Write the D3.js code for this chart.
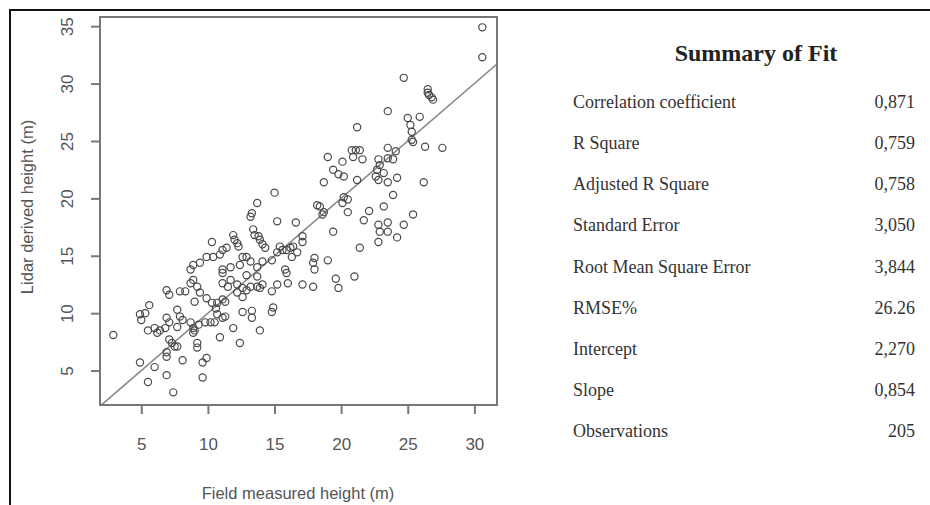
<!DOCTYPE html>
<html>
<head>
<meta charset="utf-8">
<title>Lidar vs field height</title>
<script src="https://cdn.jsdelivr.net/npm/d3@7"></script>
<style>
  body { margin: 0; background: #fff; }
  svg { display: block; }
</style>
</head>
<body>
<svg width="930" height="505" id="mainsvg"></svg>
<script>
// field measured height (x) and lidar derived height (y)
const fieldHeight = [
  2.9, 4.9, 5.5, 6.0, 6.9, 7.4, 6.9, 6.9, 8.1, 5.0, 4.9, 5.3, 5.6, 5.5, 6.0, 6.4, 6.8, 6.9, 7.1, 7.7,
  7.9, 8.1, 7.1, 7.3, 7.5, 7.7, 9.2, 9.2, 8.7, 8.9, 9.0, 9.3, 8.9, 6.9, 7.1, 7.9, 8.7, 8.9, 9.2, 9.0,
  8.7, 8.9, 6.2, 7.7,
  9.6, 9.6, 9.9, 9.8, 10.2, 10.5, 10.7, 11.1, 11.3, 10.9, 11.9, 12.4, 13.3, 13.9, 9.9, 10.3, 10.7, 11.1, 11.3, 11.1,
  11.5, 11.7, 12.2, 12.6, 12.9, 13.2, 13.7, 13.9, 14.1, 14.8, 14.9, 14.8, 15.2, 9.4, 9.9, 10.4, 10.9, 11.1, 11.1, 11.7,
  12.4, 12.6, 13.2, 13.7, 14.1, 14.8, 15.2, 9.4, 12.2, 12.6, 13.7, 12.9,
  10.3, 11.9, 12.0, 12.2, 12.3, 13.4, 13.5, 13.8, 13.9, 14.1, 14.3, 13.7, 13.3, 13.2, 15.0, 15.2, 12.9, 11.1, 11.4,
  16.6, 18.2, 17.1, 17.1, 15.6, 16.2, 16.7, 15.8, 15.9, 16.0, 17.1, 17.9, 18.0, 17.9, 18.0, 19.0, 19.8, 21.0, 21.4, 19.4,
  21.2, 20.8, 21.1, 21.4, 20.9, 21.6, 19.0, 20.1, 19.4, 19.8, 20.2, 21.2, 18.7, 20.2, 20.5, 20.1, 18.4, 18.7, 18.6, 20.5,
  21.7, 22.8, 22.9, 22.7, 23.2, 22.6, 22.8, 23.5, 23.5, 23.5, 23.2, 22.8, 23.5, 22.9, 23.5, 24.2, 22.8, 24.7, 23.5,
  15.4, 15.9, 16.4,
  30.6, 30.6, 24.7, 26.5, 26.6, 26.8, 26.9, 26.5, 25.9, 25.0, 25.2, 25.3, 25.3, 25.4, 26.3, 27.6, 24.1, 23.9, 24.2, 23.9,
  26.2, 25.4,
  12.6, 13.3, 8.3, 16.3, 19.6, 10.6, 22.1
];
const lidarHeight = [
  8.1, 5.7, 4.0, 5.3, 4.6, 3.1, 6.2, 6.6, 5.9, 9.4, 9.9, 10.0, 10.7, 8.5, 8.7, 8.5, 8.7, 9.6, 9.2, 10.3,
  9.7, 9.4, 7.7, 7.4, 7.1, 7.1, 7.4, 7.0, 9.2, 8.7, 8.5, 9.0, 8.3, 12.0, 11.6, 11.9, 12.6, 12.9, 12.3, 11.0,
  13.8, 14.2, 8.3, 8.8,
  4.4, 5.7, 6.1, 9.2, 9.2, 9.2, 9.9, 9.6, 9.7, 7.9, 8.7, 7.4, 9.6, 8.5, 11.3, 10.9, 10.9, 11.2, 11.0, 12.6,
  12.3, 12.9, 12.5, 12.2, 12.0, 12.3, 12.3, 12.2, 12.5, 11.9, 10.5, 10.1, 12.5, 14.4, 14.9, 14.9, 15.1, 13.5, 13.8, 14.0,
  14.2, 14.9, 14.5, 14.0, 14.5, 14.6, 15.3, 11.8, 11.8, 11.4, 13.2, 13.3,
  16.2, 16.8, 16.4, 16.1, 15.8, 17.3, 16.8, 16.7, 16.4, 16.0, 15.7, 19.6, 18.7, 18.4, 20.5, 18.0, 14.9, 15.5, 15.7,
  17.9, 19.4, 16.7, 16.2, 15.5, 15.7, 15.3, 13.8, 13.5, 12.6, 12.5, 12.3, 14.8, 14.4, 13.8, 14.6, 12.2, 13.2, 15.7, 17.1,
  26.2, 24.2, 24.2, 24.2, 23.6, 23.4, 23.6, 23.2, 22.5, 22.1, 21.9, 21.6, 21.4, 20.1, 19.9, 19.6, 19.3, 18.8, 18.6, 18.8,
  18.1, 23.4, 22.9, 22.5, 22.2, 21.9, 21.6, 21.4, 24.4, 23.5, 19.3, 17.7, 17.9, 17.1, 17.1, 16.6, 16.2, 17.7, 27.6,
  15.8, 15.5, 15.8,
  34.9, 32.3, 30.5, 29.5, 29.0, 28.8, 28.6, 29.2, 27.1, 27.0, 26.4, 25.8, 25.1, 24.9, 24.5, 24.4, 24.1, 23.4, 21.8, 20.3,
  21.4, 18.6,
  10.1, 10.2, 11.9, 14.9, 13.0, 10.4, 18.9
];

const fitLabels = ['Correlation coefficient', 'R Square', 'Adjusted R Square', 'Standard Error',
  'Root Mean Square Error', 'RMSE%', 'Intercept', 'Slope', 'Observations'];
const fitValues = ['0,871', '0,759', '0,758', '3,050', '3,844', '26.26', '2,270', '0,854', '205'];
const xTicks = [5, 10, 15, 20, 25, 30];
const yTicks = [5, 10, 15, 20, 25, 30, 35];

const svg = d3.select('svg');
const points = fieldHeight.map((d, i) => ({x: d, y: lidarHeight[i]}));

const box = {left: 100, right: 497, top: 17, bottom: 405};
const x = d3.scaleLinear().domain([1.9, 31.7]).range([box.left, box.right]);
const y = d3.scaleLinear().domain([2.0, 35.8]).range([box.bottom, box.top]);
const sans = 'Liberation Sans, Arial, sans-serif';
const serif = 'Liberation Serif, DejaVu Serif, serif';

// outer frame (top and left edges only, image is cropped)
svg.append('path').attr('d', 'M10,505 L10,10 L930,10')
  .attr('fill', 'none').attr('stroke', '#111').attr('stroke-width', 2);

svg.append('clipPath').attr('id', 'plotclip').append('rect')
  .attr('x', box.left).attr('y', box.top)
  .attr('width', box.right - box.left).attr('height', box.bottom - box.top);

// 1:1 line
svg.append('line')
  .attr('clip-path', 'url(#plotclip)')
  .attr('x1', x(1.9)).attr('y1', y(1.9)).attr('x2', x(31.7)).attr('y2', y(31.7))
  .attr('stroke', '#888').attr('stroke-width', 1.6);

svg.append('g').selectAll('circle').data(points).join('circle')
  .attr('cx', d => x(d.x)).attr('cy', d => y(d.y)).attr('r', 3.6)
  .attr('fill', 'none').attr('stroke', '#4a4a4a').attr('stroke-width', 1.2);

svg.append('rect')
  .attr('x', box.left).attr('y', box.top)
  .attr('width', box.right - box.left).attr('height', box.bottom - box.top)
  .attr('fill', 'none').attr('stroke', '#777').attr('stroke-width', 2);

const xAxis = svg.append('g').attr('transform', `translate(0,${box.bottom})`)
  .call(d3.axisBottom(x).tickValues(xTicks).tickSize(9));
const yAxis = svg.append('g').attr('transform', `translate(${box.left},0)`)
  .call(d3.axisLeft(y).tickValues(yTicks).tickSize(9));

[xAxis, yAxis].forEach(g => {
  g.select('.domain').remove();
  g.selectAll('line').attr('stroke', '#777').attr('stroke-width', 2);
  g.selectAll('text').attr('fill', '#555').attr('font-size', 17)
    .attr('font-family', sans);
});
xAxis.selectAll('text').attr('y', 45).attr('dy', 0);
yAxis.selectAll('text')
  .attr('transform', 'translate(-33,0) rotate(-90)')
  .attr('x', 0).attr('y', 0).attr('dy', '0.35em')
  .attr('text-anchor', 'middle');

svg.append('text')
  .attr('transform', `translate(27,${207}) rotate(-90)`)
  .attr('dy', '0.35em')
  .attr('text-anchor', 'middle').attr('font-size', 16.5).attr('fill', '#555')
  .attr('font-family', sans)
  .text('Lidar derived height (m)');
svg.append('text')
  .attr('x', 298).attr('y', 499)
  .attr('text-anchor', 'middle').attr('font-size', 16.5).attr('fill', '#555')
  .attr('font-family', sans)
  .text('Field measured height (m)');

// summary table
svg.append('text').attr('x', 756).attr('y', 61)
  .attr('text-anchor', 'middle').attr('font-family', serif)
  .attr('font-weight', 'bold').attr('font-size', 24).attr('fill', '#222')
  .text('Summary of Fit');

const row = d3.scaleLinear().domain([0, fitLabels.length - 1]).range([108, 437]);
svg.append('g').selectAll('text').data(fitLabels).join('text')
  .attr('x', 573).attr('y', (d, i) => row(i))
  .attr('font-family', serif).attr('font-size', 18).attr('fill', '#333')
  .text(d => d);
svg.append('g').selectAll('text').data(fitValues).join('text')
  .attr('x', 915).attr('y', (d, i) => row(i))
  .attr('text-anchor', 'end')
  .attr('font-family', serif).attr('font-size', 18).attr('fill', '#333')
  .text(d => d);
</script>
</body>
</html>
